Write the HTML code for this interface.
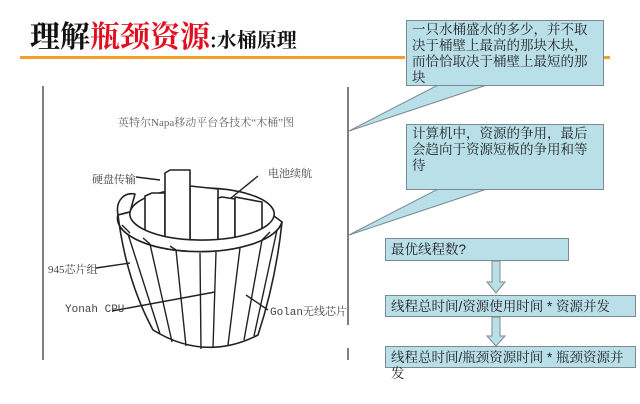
<!DOCTYPE html>
<html><head><meta charset="utf-8"><style>
body{margin:0;width:640px;height:404px;background:#fff;position:relative;overflow:hidden;font-family:"Liberation Sans","Noto Sans CJK SC",sans-serif;}
.t{position:absolute;white-space:nowrap;}
.box{position:absolute;background:#b9dfe9;border:1px solid #7a8a90;font-size:13.5px;line-height:16px;color:#222;box-sizing:border-box;padding:1px 5px;font-family:"Liberation Sans","Noto Serif CJK SC",serif;}
</style></head><body>
<div class="t" style="left:30px;top:12px;font-size:30px;font-weight:bold;font-family:'Noto Serif CJK SC','Noto Sans CJK SC',sans-serif;"><span style="color:#111">理解</span><span style="color:#e01020">瓶颈资源</span><span style="font-size:20px;color:#111">:水桶原理</span></div>
<div style="position:absolute;left:20px;top:56px;width:385px;height:3px;background:#f2a02a"></div>
<div style="position:absolute;left:600px;top:56px;width:10px;height:3px;background:#f2a02a"></div>

<svg width="640" height="404" style="position:absolute;left:0;top:0">
<g stroke="#555" fill="none" stroke-width="1.5">
<line x1="43" y1="86" x2="43" y2="360"/>
<line x1="348" y1="87" x2="348" y2="325"/>
<line x1="348" y1="348" x2="348" y2="360"/>
</g>
<polygon points="438,85 487,85 349,131" fill="#b9dfe9" stroke="#7a8a90"/>
<polygon points="438,189 487,189 349,235" fill="#b9dfe9" stroke="#7a8a90"/>
<g stroke="#222" stroke-width="1.6" fill="#fff" stroke-linejoin="round">
<path d="M130,212 A72,26 0 0 1 274,216" />
<polygon points="145,240 145,196 152,193 165,193 165,240"/>
<polygon points="190,242 190,186 218,189 218,242"/>
<polygon points="218,242 218,198 222,197 235,199 235,242"/>
<polygon points="235,242 235,197 262,202 262,238"/>
<polygon points="165,244 165,173 170,170 190,170 190,244"/>
<path d="M118,215 C115,200 125,192 135,194 L130,212 Z"/>
<path d="M118,215 A82,33 0 0 0 282,222 L274,216 A72,26 0 0 1 130,212 Z"/>
<path d="M118,215 Q126,280 153,330 Q205,362 258,335 Q276,280 282,222 A82,33 0 0 1 118,215 Z"/>
</g>
<g stroke="#222" stroke-width="1.4" fill="none">
<line x1="128" y1="234" x2="160" y2="334"/>
<line x1="150" y1="244" x2="172" y2="342"/>
<line x1="176" y1="250" x2="186" y2="346"/>
<line x1="200" y1="253" x2="201" y2="349"/>
<line x1="216" y1="252" x2="213" y2="348"/>
<line x1="240" y1="248" x2="228" y2="345"/>
<line x1="262" y1="240" x2="244" y2="340"/>
<line x1="277" y1="230" x2="254" y2="336"/>
<line x1="122" y1="225" x2="130" y2="233"/><line x1="143" y1="238" x2="150" y2="244"/><line x1="170" y1="246" x2="176" y2="250"/><line x1="262" y1="240" x2="270" y2="232"/>
<line x1="136" y1="177" x2="160" y2="180"/>
<line x1="258" y1="176" x2="231" y2="198"/>
<line x1="96" y1="268" x2="130" y2="263"/>
<line x1="112" y1="311" x2="215" y2="292"/>
<line x1="268" y1="310" x2="246" y2="295"/>
</g>
<g fill="#b9dfe9" stroke="#7a8a90">
<polygon points="492,261 500,261 500,282 505,282 496,293 487,282 492,282"/>
<polygon points="492,317 500,317 500,336 505,336 496,346 487,336 492,336"/>
</g>
</svg>
<div class="t" style="left:118px;top:114px;font-size:11px;color:#666;font-family:'Liberation Serif','Noto Serif CJK SC',serif">英特尔Napa移动平台各技术“木桶”图</div>
<div class="t" style="left:92px;top:171px;font-size:11px;color:#444;font-family:'Liberation Serif','Noto Serif CJK SC',serif">硬盘传输</div>
<div class="t" style="left:268px;top:165px;font-size:11px;color:#444;font-family:'Liberation Serif','Noto Serif CJK SC',serif">电池续航</div>
<div class="t" style="left:48px;top:261px;font-size:11px;color:#444;font-family:'Liberation Serif','Noto Serif CJK SC',serif">945芯片组</div>
<div class="t" style="left:65px;top:304px;font-size:11px;color:#444;font-family:'Liberation Mono','Noto Serif CJK SC',monospace">Yonah CPU</div>
<div class="t" style="left:270px;top:303px;font-size:11px;color:#444;font-family:'Liberation Mono','Noto Serif CJK SC',monospace">Golan无线芯片</div>

<div class="box" style="left:406px;top:20px;width:198px;height:66px;">一只水桶盛水的多少，并不取决于桶壁上最高的那块木块，而恰恰取决于桶壁上最短的那块</div>
<div class="box" style="left:406px;top:124px;width:198px;height:66px;">计算机中，资源的争用，最后会趋向于资源短板的争用和等待</div>
<div class="box" style="left:385px;top:238px;width:184px;height:23px;padding-top:3px">最优线程数?</div>
<div class="box" style="left:385px;top:295px;width:251px;height:22px;padding-top:3px">线程总时间/资源使用时间 * 资源并发</div>
<div class="box" style="left:385px;top:346px;width:251px;height:22px;padding-top:3px;overflow:visible;">线程总时间/瓶颈资源时间 * 瓶颈资源并发</div>
</body></html>
